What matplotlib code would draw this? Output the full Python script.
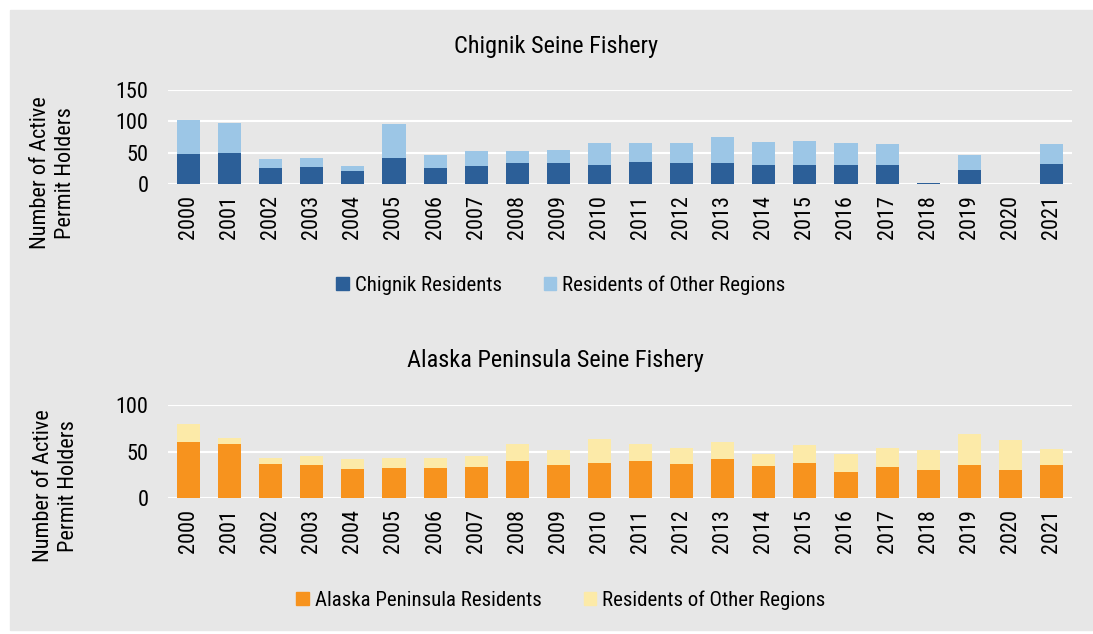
#Active permit holders in the Chignik and Alaska Peninsula seine fisheries
import matplotlib.pyplot as plt
from matplotlib.patches import Rectangle, Patch

years = [str(y) for y in range(2000, 2022)]

# Chignik seine fishery
chignik_res = [48, 49, 26, 27, 20, 41, 26, 28, 33, 33, 30, 35, 34, 33, 31, 30, 30, 31, 2, 22, 0, 32]
chignik_other = [54, 48, 14, 14, 8, 55, 20, 24, 20, 21, 36, 30, 32, 42, 36, 38, 35, 33, 0, 24, 0, 32]

# Alaska Peninsula seine fishery
ap_res = [60, 58, 37, 36, 31, 32, 32, 33, 40, 35, 38, 40, 37, 42, 34, 38, 28, 33, 30, 35, 30, 35]
ap_other = [20, 7, 6, 9, 11, 11, 11, 12, 18, 17, 25, 18, 17, 18, 13, 19, 19, 21, 22, 34, 32, 18]

DARK_BLUE = '#2c5f98'
LIGHT_BLUE = '#9cc6e6'
ORANGE = '#f7931e'
PALE_YELLOW = '#fceaa8'
PANEL = '#e7e7e7'

plt.rcParams['font.family'] = ['Roboto Condensed', 'Roboto', 'DejaVu Sans']
FS = 16

fig = plt.figure(figsize=(10.93, 6.34), dpi=100)
fig.patches.append(Rectangle((10 / 1093, 4 / 634), 1, 620 / 634,
                             transform=fig.transFigure, color=PANEL, zorder=-5))


def draw_panel(ax, res, other, c1, c2, ymax, yticks):
    ax.set_facecolor('none')
    x = range(len(years))
    ax.bar(x, res, width=0.56, color=c1, zorder=3)
    ax.bar(x, other, width=0.56, bottom=res, color=c2, zorder=3)
    ax.set_xlim(-0.5, len(years) - 0.5)
    ax.set_ylim(0, ymax)
    ax.set_yticks(yticks)
    ax.set_xticks(list(x))
    ax.set_xticklabels(years, rotation=90, fontsize=FS)
    ax.tick_params(axis='y', labelsize=FS, length=0, pad=14)
    ax.tick_params(axis='x', length=0, pad=8)
    ax.grid(axis='y', color='white', linewidth=1.5, zorder=1)
    for s in ax.spines.values():
        s.set_visible(False)


ax1 = fig.add_axes([168 / 1093, 1 - 184 / 634, 904 / 1093, 94 / 634])
draw_panel(ax1, chignik_res, chignik_other, DARK_BLUE, LIGHT_BLUE, 150, [0, 50, 100, 150])

ax2 = fig.add_axes([168 / 1093, 1 - 498 / 634, 904 / 1093, 93 / 634])
draw_panel(ax2, ap_res, ap_other, ORANGE, PALE_YELLOW, 100, [0, 50, 100])

fig.text(556 / 1093, 1 - 47 / 634, 'Chignik Seine Fishery', ha='center', va='center', fontsize=17.5)
fig.text(555 / 1093, 1 - 360 / 634, 'Alaska Peninsula Seine Fishery', ha='center', va='center', fontsize=17.5)

fig.text(53 / 1093, 1 - 173 / 634, 'Number of Active\nPermit Holders', rotation=90,
         ha='center', va='center', fontsize=FS, linespacing=1.2)
fig.text(56 / 1093, 1 - 486 / 634, 'Number of Active\nPermit Holders', rotation=90,
         ha='center', va='center', fontsize=FS, linespacing=1.2)

leg_kw = dict(frameon=False, fontsize=15, ncol=2, handlelength=0.6, handleheight=0.6,
              handletextpad=0.3, columnspacing=2.0, loc='center')
fig.legend(handles=[Patch(color=DARK_BLUE, label='Chignik Residents'),
                    Patch(color=LIGHT_BLUE, label='Residents of Other Regions')],
           bbox_to_anchor=(561 / 1093, 1 - 285 / 634), **leg_kw)
fig.legend(handles=[Patch(color=ORANGE, label='Alaska Peninsula Residents'),
                    Patch(color=PALE_YELLOW, label='Residents of Other Regions')],
           bbox_to_anchor=(561 / 1093, 1 - 600 / 634), **leg_kw)

plt.savefig('out.png', dpi=100)
